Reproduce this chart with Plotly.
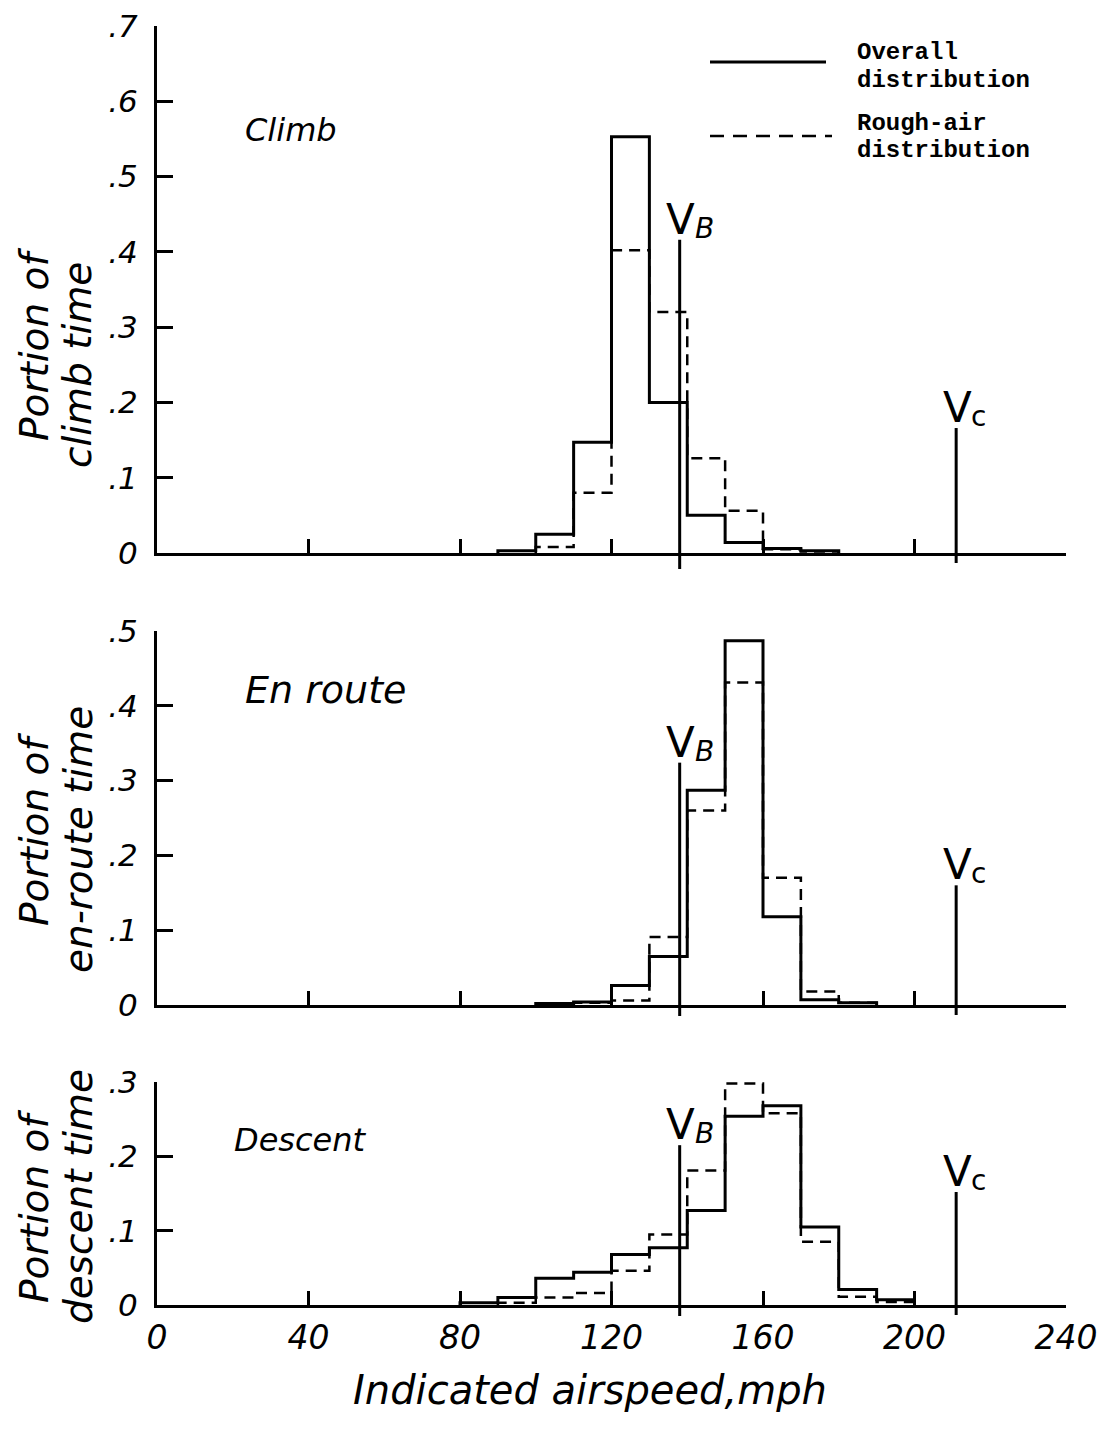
import plotly.graph_objects as go

W, H = 1108, 1431

# ---------------- data ----------------
bin_width = 10

climb_overall_first = 90
climb_overall = [0.003, 0.025, 0.147, 0.553, 0.200, 0.050, 0.014, 0.006, 0.003]
climb_rough_first = 100
climb_rough = [0.008, 0.080, 0.402, 0.320, 0.126, 0.056, 0.005, 0.002]

enroute_overall_first = 100
enroute_overall = [0.002, 0.004, 0.026, 0.065, 0.287, 0.487, 0.118, 0.007, 0.003]
enroute_rough_first = 110
enroute_rough = [0.003, 0.006, 0.091, 0.260, 0.431, 0.170, 0.018, 0.003]

descent_overall_first = 80
descent_overall = [0.003, 0.010, 0.036, 0.044, 0.068, 0.077, 0.127, 0.254, 0.268, 0.105, 0.021, 0.007]
descent_rough_first = 90
descent_rough = [0.003, 0.010, 0.016, 0.046, 0.095, 0.181, 0.298, 0.258, 0.085, 0.011, 0.004]

V_B = 138
V_C = 211
vb_tops = [0.416, 0.324, 0.215]
vc_tops = [0.166, 0.160, 0.152]

y_max = [0.7, 0.5, 0.3]
x_ticks = [0, 40, 80, 120, 160, 200, 240]
x_tick_labels = ["0", "40", "80", "120", "160", "200", "240"]
y_tick_labels = ["0", ".1", ".2", ".3", ".4", ".5", ".6", ".7"]

panel_names = ["Climb", "En route", "Descent"]
y_titles = [["Portion of", "climb time"], ["Portion of", "en-route time"], ["Portion of", "descent time"]]
x_title = "Indicated airspeed,mph"
legend_names = [["Overall", "distribution"], ["Rough-air", "distribution"]]

# ---------------- layout geometry (pixels) ----------------
X_LEFT, X_RIGHT = 157, 1066
panel_px = [(26, 553), (631, 1005), (1082, 1305)]   # (top, bottom)

def py(p):
    return 1 - p / H

def px(p):
    return p / W

HAND = "DejaVu Sans"
TYPE = "Liberation Mono"

def steps(first, vals):
    edges = [first + i * bin_width for i in range(len(vals) + 1)]
    xs = [edges[0]] + edges[:-1] + [edges[-1], edges[-1]]
    ys = [0] + list(vals) + [vals[-1], 0]
    return xs, ys

series = [
    (climb_overall_first, climb_overall, climb_rough_first, climb_rough),
    (enroute_overall_first, enroute_overall, enroute_rough_first, enroute_rough),
    (descent_overall_first, descent_overall, descent_rough_first, descent_rough),
]

fig = go.Figure()
shapes = []
annotations = []

for i, (of, ov, rf, rv) in enumerate(series):
    n = "" if i == 0 else str(i + 1)
    xa, ya = "x" + n, "y" + n
    xs, ys = steps(of, ov)
    fig.add_trace(go.Scatter(x=xs, y=ys, mode="lines", line=dict(color="black", width=3, shape="hv"),
                             xaxis=xa, yaxis=ya, showlegend=False, hoverinfo="skip"))
    xs, ys = steps(rf, rv)
    fig.add_trace(go.Scatter(x=xs, y=ys, mode="lines",
                             line=dict(color="black", width=2.5, shape="hv", dash="11px,7px"),
                             xaxis=xa, yaxis=ya, showlegend=False, hoverinfo="skip"))

    top, bot = panel_px[i]
    ymax = y_max[i]
    nt = int(round(ymax * 10))
    fig.update_layout(**{
        "xaxis" + n: dict(domain=[px(X_LEFT), px(X_RIGHT)], range=[0, 240], anchor=ya,
                          showline=True, linewidth=3, linecolor="black", mirror=False,
                          ticks="inside", ticklen=14, tickwidth=2.5, tickcolor="black",
                          tickvals=x_ticks if i == 2 else x_ticks[1:],
                          ticktext=x_tick_labels if i == 2 else x_tick_labels[1:],
                          showticklabels=(i == 2),
                          tickfont=dict(family=HAND, size=33, color="black", style="italic"),
                          ticklabelstandoff=1, automargin=False,
                          showgrid=False, zeroline=False, fixedrange=True),
        "yaxis" + n: dict(domain=[py(bot), py(top)], range=[0, ymax], anchor=xa,
                          showline=True, linewidth=3, linecolor="black",
                          ticks="inside", ticklen=16, tickwidth=2.5, tickcolor="black",
                          tickvals=[k / 10 for k in range(nt + 1)],
                          ticktext=y_tick_labels[:nt + 1],
                          tickfont=dict(family=HAND, size=31, color="black", style="italic"),
                          ticklabelstandoff=10, automargin=False,
                          showgrid=False, zeroline=False, fixedrange=True),
    })

    # V_B and V_C marker lines (in data units) plus short tails below the baseline
    for xv, ytop, sub, sub_style, tail in [(V_B, vb_tops[i], "B", "italic", 16 if i == 0 else 11),
                                          (V_C, vc_tops[i], "c", "normal", 10)]:
        shapes.append(dict(type="line", xref=xa, yref=ya, x0=xv, x1=xv, y0=0, y1=ytop,
                           line=dict(color="black", width=3)))
        shapes.append(dict(type="line", xref=xa, yref="paper", x0=xv, x1=xv,
                           y0=py(bot + tail), y1=py(bot), line=dict(color="black", width=3)))
        annotations.append(dict(xref=xa, yref=ya, x=xv, y=ytop, xanchor="center", yanchor="bottom",
                                xshift=1, yshift=-6, showarrow=False, text="V",
                                font=dict(family=HAND, size=42, color="black")))
        annotations.append(dict(xref=xa, yref=ya, x=xv, y=ytop, xanchor="left", yanchor="bottom",
                                xshift=13, yshift=-7, showarrow=False, text=sub,
                                font=dict(family=HAND, size=28, color="black", style=sub_style)))

# panel labels
for (name, xp, yp, sz) in [(panel_names[0], 243, 130, 32), (panel_names[1], 243, 690, 38),
                            (panel_names[2], 232, 1140, 32)]:
    annotations.append(dict(xref="paper", yref="paper", x=px(xp), y=py(yp), xanchor="left",
                            yanchor="middle", showarrow=False, text=name,
                            font=dict(family=HAND, size=sz, color="black", style="italic")))

# y titles (two rotated lines each)
for lines, centers in zip(y_titles, [(345, 365), (830, 840), (1207, 1197)]):
    for k, t in enumerate(lines):
        annotations.append(dict(xref="paper", yref="paper", x=px(34 + k * 44), y=py(centers[k]),
                                xanchor="center", yanchor="middle", showarrow=False, text=t,
                                textangle=-90,
                                font=dict(family=HAND, size=39, color="black", style="italic")))

# x title
annotations.append(dict(xref="paper", yref="paper", x=px(590), y=py(1390), xanchor="center",
                        yanchor="middle", showarrow=False, text=x_title,
                        font=dict(family=HAND, size=40, color="black", style="italic")))

# legend (drawn manually)
shapes.append(dict(type="line", xref="paper", yref="paper", x0=px(710), x1=px(826),
                   y0=py(62), y1=py(62), line=dict(color="black", width=3)))
shapes.append(dict(type="line", xref="paper", yref="paper", x0=px(710), x1=px(832),
                   y0=py(136), y1=py(136), line=dict(color="black", width=2.5, dash="14px,9px")))
for (lines, ytop) in zip(legend_names, [40, 111]):
    for k, t in enumerate(lines):
        annotations.append(dict(xref="paper", yref="paper", x=px(855), y=py(ytop + 13 + k * 27),
                                xanchor="left", yanchor="middle", showarrow=False,
                                text="<b>" + t + "</b>",
                                font=dict(family=TYPE, size=24, color="black")))

fig.update_layout(width=W, height=H, template="none",
                  margin=dict(l=0, r=0, t=0, b=0, pad=0, autoexpand=False),
                  paper_bgcolor="white", plot_bgcolor="white",
                  shapes=shapes, annotations=annotations, showlegend=False)

fig.write_html("out.html")
